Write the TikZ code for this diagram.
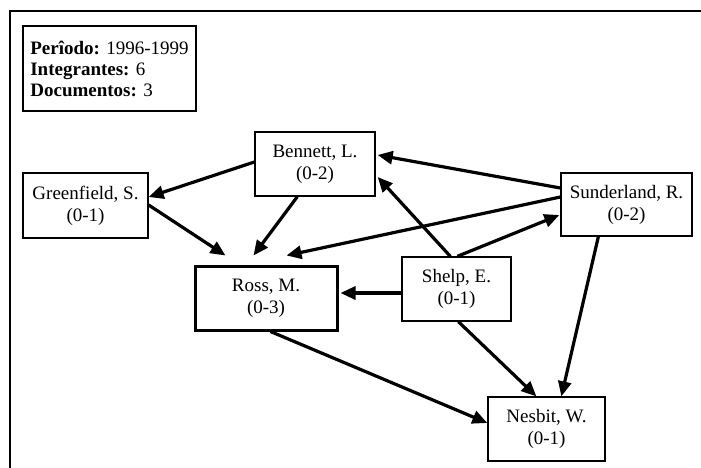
\documentclass[tikz,border=0pt]{standalone}
\usepackage{fontspec}
\setmainfont{Liberation Serif}
\usetikzlibrary{arrows.meta,calc}
\tikzset{
  person/.style={draw=black, line width=1.3pt, fill=white, inner sep=0pt, align=center,
    font=\fontsize{19}{22}\selectfont},
  mainperson/.style={person, line width=3pt},
  infobox/.style={draw=black, line width=1.3pt, inner sep=0pt, align=left,
    font=\fontsize{19}{21}\selectfont},
  link/.style={line width=3.2pt, -{Triangle[length=15pt,width=13pt]}},
  frame/.style={line width=2pt}
}
\begin{document}
\begin{tikzpicture}[x=1pt,y=-1pt]
\useasboundingbox (0,0) rectangle (701,468);
\coordinate (fbot) at (10,468);
\coordinate (fcorner) at (10,11);
\coordinate (fright) at (701,11);
\draw[frame] (fbot) -- (fcorner) -- (fright);

\node[infobox, minimum width=173pt, minimum height=85pt] (info) at (109.5,68.5)
  {\textbf{Perîodo:} 1996-1999\\\textbf{Integrantes:} 6\\\textbf{Documentos:} 3};

\node[person, minimum width=125pt, minimum height=65pt] (gre) at (85.5,205.5) {Greenfield, S.\\(0-1)};
\node[person, minimum width=120pt, minimum height=64pt] (ben) at (315,164) {Bennett, L.\\(0-2)};
\node[mainperson, minimum width=142pt, minimum height=64pt] (ross) at (266,298) {Ross, M.\\(0-3)};
\node[person, minimum width=109pt, minimum height=64pt] (shelp) at (456.5,289) {Shelp, E.\\(0-1)};
\node[person, minimum width=131pt, minimum height=63pt] (sun) at (626.5,204.5) {Sunderland, R.\\(0-2)};
\node[person, minimum width=117pt, minimum height=64pt] (nes) at (546.5,429) {Nesbit, W.\\(0-1)};

\draw[link] ($(ben.west)+(0,-2)$) -- ($(gre.east)+(0,-8.5)$);
\draw[link] ($(gre.east)+(0,-0.5)$) -- ($(ross.north west)+(32,-9)$);
\draw[link] ($(ben.south west)+(43,0)$) -- ($(ross.north west)+(60,-9)$);
\draw[link] ($(sun.west)+(0,-7.5)$) -- ($(ross.north west)+(93,-9)$);
\draw[link] ($(sun.west)+(0,-16.5)$) -- ($(ben.east)+(2,-9)$);
\draw[link] ($(shelp.north west)+(49,0)$) -- ($(ben.east)+(2,13)$);
\draw[link] ($(shelp.north west)+(56,0)$) -- ($(sun.west)+(-1,10.5)$);
\draw[link] ($(shelp.west)+(0,4)$) -- ($(ross.east)+(2,-5)$);
\draw[link] ($(ross.south west)+(77,0)$) -- ($(nes.west)+(0,-6)$);
\draw[link] ($(shelp.south west)+(57,0)$) -- ($(nes.north west)+(49,0)$);
\draw[link] ($(sun.south west)+(38,0)$) -- ($(nes.north west)+(74,0)$);
\end{tikzpicture}
\end{document}
